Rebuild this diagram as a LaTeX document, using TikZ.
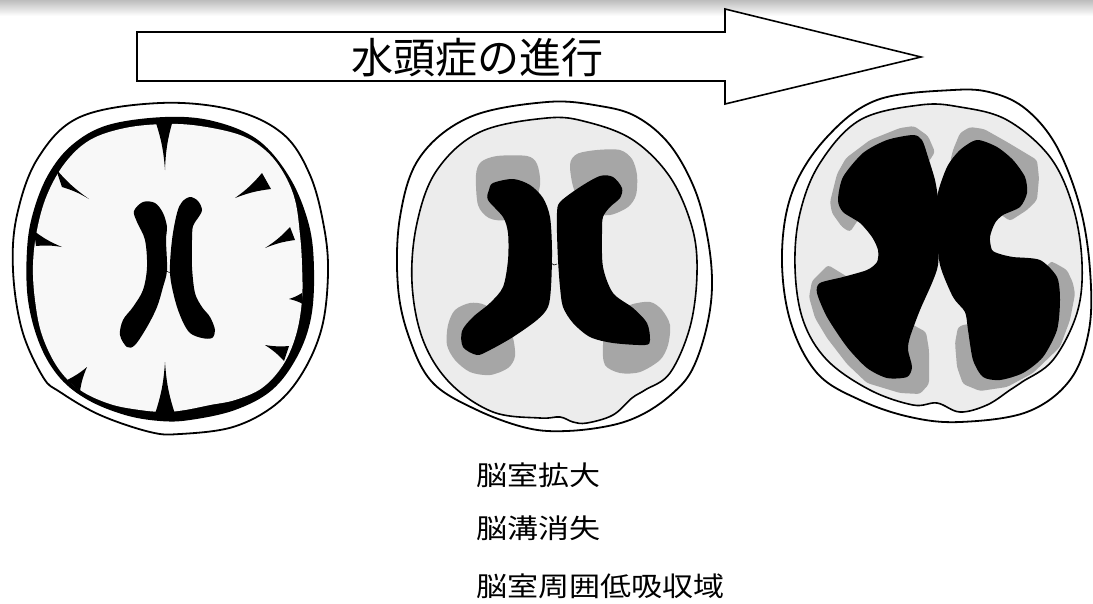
\documentclass[tikz,border=0pt]{standalone}
\usepackage{fontspec}
\newfontfamily\jpfont{Noto Sans CJK JP}
\newfontfamily\jpwide[FakeStretch=1.15]{Noto Sans CJK JP}
\definecolor{brainwhite}{HTML}{F8F8F8}
\definecolor{brainlight}{HTML}{ECECEC}
\definecolor{halogray}{HTML}{A6A6A6}
\definecolor{shadowgray}{HTML}{BDBDBD}
% a sulcus: black spike from the CSF band (two base points) to its tip
\newcommand\sulcus[3]{\fill[black] #1 to[bend left=7] #3 to[bend left=7] #2 -- cycle;}
\begin{document}
\begin{tikzpicture}[x=1pt,y=-1pt,
  skull/.style={fill=white,draw=black,line width=1.8pt,line join=round},
  cortex/.style={fill=brainlight,draw=black,line width=1.6pt,line join=round},
  vent/.style={fill=black},
  halo/.style={fill=halogray,rounded corners=3pt},
  arrowbox/.style={fill=white,draw=black,line width=1.6pt,line join=miter},
  title/.style={font=\jpfont\fontsize{42}{42}\selectfont,inner sep=0pt},
  caption/.style={font=\jpwide\fontsize{27}{27}\selectfont,inner sep=0pt,anchor=west}]
\useasboundingbox (0,0) rectangle (1093,603);
\fill[white] (0,0) rectangle (1093,603);
% soft shadow along the top edge
\shade[top color=shadowgray,bottom color=white] (0,0) rectangle (1093,16);

% progression arrow
\draw[arrowbox] (137,32) -- (725,32) -- (725,9) -- (921,57) -- (725,104) -- (725,81) -- (137,81) -- cycle;
\node[title] (prog) at (477,58) {水頭症の進行};

% ---------- normal brain ----------
\draw[skull] plot[smooth cycle,tension=0.6] coordinates {
 (160,103) (233,110) (283,134) (310,175) (324,227) (328,273) (322,327) (303,372)
 (275,405) (233,427) (180,434) (150,432) (100,415) (60,392) (43,377) (22,330)
 (13,270) (17,215) (38,158) (80,117)};
\fill[black] plot[smooth cycle,tension=0.6] coordinates {
 (165,117) (213,121) (258,140) (290,178) (309,225) (314,270) (311,318) (297,357)
 (272,390) (235,410) (190,420) (160,421) (125,415) (88,400) (60,378) (40,345)
 (28,300) (27,250) (33,213) (48,175) (72,145) (108,125)};
\fill[brainwhite] plot[smooth cycle,tension=0.6] coordinates {
 (165,124) (200,126) (240,135) (265,150) (283,172) (295,200) (300,235) (302,265)
 (302,300) (296,335) (283,365) (262,388) (235,400) (210,405) (185,410) (165,412)
 (140,410) (110,404) (80,390) (58,368) (42,335) (35,300) (33,265) (37,230)
 (47,195) (65,163) (90,140) (125,128)};
% sulci
\sulcus{(155,120)}{(173,120)}{(165,170)}
\sulcus{(175,414)}{(155,414)}{(165,362)}
\sulcus{(62,187)}{(56,169)}{(89,199)}
\sulcus{(36,246)}{(34,231)}{(62,247)}
\sulcus{(80,391)}{(67,380)}{(87,367)}
\sulcus{(262,173)}{(271,189)}{(235,198)}
\sulcus{(290,227)}{(295,240)}{(265,248)}
\sulcus{(302,293)}{(303,304)}{(289,299)}
\sulcus{(289,346)}{(284,361)}{(265,345)}
% ventricles
\fill[vent] plot[smooth cycle,tension=0.55] coordinates {
 (143,202) (155,203) (163,213) (167,227) (166,240) (167,270) (163,287) (157,307)
 (147,327) (135,345) (127,347) (120,335) (123,320) (133,307) (143,290) (147,267)
 (145,240) (137,222) (134,211)};
\fill[vent] plot[smooth cycle,tension=0.55] coordinates {
 (190,197) (198,201) (202,210) (198,218) (193,226) (192,240) (192,267) (195,293)
 (202,307) (210,317) (215,330) (212,338) (202,338) (190,333) (182,320) (175,300)
 (170,273) (172,240) (177,213) (182,202)};
\draw[black,line width=0.5pt] (165,270) -- (170,273);

% ---------- enlarging ventricles ----------
\draw[skull] plot[smooth cycle,tension=0.6] coordinates {
 (547,102) (600,106) (637,117) (670,145) (695,190) (708,240) (712,287) (706,330)
 (692,370) (673,393) (645,413) (613,425) (567,431) (527,428) (477,410) (433,383)
 (410,340) (398,287) (400,217) (420,157) (470,117)};
\draw[cortex] plot[smooth cycle,tension=0.6] coordinates {
 (547,118) (587,122) (633,140) (670,177) (692,227) (697,273) (690,327) (670,373)
 (645,390) (632,398) (613,415) (587,423) (573,422) (560,417) (540,418) (493,412)
 (450,383) (423,340) (412,283) (417,223) (437,170) (480,132)};
% periventricular lucency
\fill[halogray] plot[smooth cycle,tension=0.5] coordinates {
 (476,175) (481,162) (497,156) (527,156) (537,164) (540,185) (531,210) (506,220)
 (489,218) (478,205)};
\fill[halogray] plot[smooth cycle,tension=0.5] coordinates {
 (570,165) (577,154) (597,150) (620,150) (632,159) (637,175) (636,195) (628,207)
 (610,215) (592,212) (575,192)};
\fill[halogray] plot[smooth cycle,tension=0.5] coordinates {
 (448,325) (455,310) (470,303) (485,305) (500,318) (512,335) (515,356) (508,368)
 (490,375) (470,372) (455,360) (447,345)};
\fill[halogray] plot[smooth cycle,tension=0.5] coordinates {
 (608,318) (630,305) (650,302) (662,310) (670,325) (668,345) (660,360) (640,372)
 (620,373) (605,365) (603,345)};
% ventricles
\fill[vent] plot[smooth cycle,tension=0.5] coordinates {
 (493,183) (513,179) (530,185) (543,198) (550,217) (552,250) (551,287) (548,307)
 (537,320) (513,337) (490,350) (477,355) (463,347) (462,331) (473,317) (490,303)
 (503,287) (508,260) (508,233) (503,217) (488,200) (489,190)};
\fill[vent] plot[smooth cycle,tension=0.5] coordinates {
 (560,202) (580,187) (600,176) (613,177) (622,188) (620,198) (610,207) (603,217)
 (602,233) (603,267) (613,293) (633,308) (647,323) (650,340) (645,345) (613,343)
 (590,337) (573,323) (563,307) (560,287) (558,260) (557,233) (557,213)};
\draw[black,line width=0.6pt] (551,263) -- (554,265) -- (557,264);

% ---------- advanced hydrocephalus ----------
\draw[skull] plot[smooth cycle,tension=0.6] coordinates {
 (953,90) (993,93) (1027,110) (1057,147) (1080,207) (1090,270) (1089,330) (1070,380)
 (1027,412) (960,422) (910,417) (860,400) (817,373) (790,320) (782,253) (793,190)
 (827,137) (877,100)};
\draw[cortex] plot[smooth cycle,tension=0.6] coordinates {
 (920,105) (960,107) (1007,120) (1050,157) (1073,207) (1082,263) (1077,313) (1053,360)
 (1022,382) (1010,390) (987,405) (960,412) (937,403) (913,405) (870,390) (827,360)
 (803,320) (795,267) (800,213) (820,163) (860,120)};
% periventricular lucency
\fill[halo] (830,202) -- (837,174) -- (846,158) -- (870,140) -- (900,128) -- (914,126)
 -- (928,136) -- (935,152) -- (920,175) -- (862,214) -- (850,232) -- (842,227) -- (832,213) -- cycle;
\fill[halo] (828,265) -- (846,276) -- (880,300) -- (915,326) -- (926,332) -- (929,350)
 -- (929,384) -- (920,394) -- (900,393) -- (867,383) -- (847,364) -- (827,338)
 -- (815,318) -- (809,297) -- (812,281) -- cycle;
\fill[halo] (950,162) -- (953,150) -- (960,133) -- (970,127) -- (984,129) -- (1007,142)
 -- (1027,154) -- (1037,160) -- (1039,178) -- (1037,200) -- (1027,210) -- (1010,221)
 -- (1000,214) -- (980,180) -- cycle;
\fill[halo] (1050,262) -- (1053,262) -- (1067,270) -- (1073,283) -- (1075,294) -- (1070,320)
 -- (1060,347) -- (1033,373) -- (1007,387) -- (980,391) -- (963,384) -- (957,367)
 -- (955,343) -- (958,327) -- (966,324) -- (1000,330) -- cycle;
% ventricles
\fill[vent] plot[smooth cycle,tension=0.45] coordinates {
 (913,135) (922,140) (928,157) (935,180) (938,200) (939,235) (938,265) (932,283)
 (920,310) (910,337) (908,350) (912,367) (907,377) (887,378) (867,368) (847,347)
 (827,317) (817,293) (820,283) (843,277) (867,270) (877,262) (878,250) (872,237)
 (860,223) (843,212) (838,200) (843,177) (863,153) (887,140)};
\fill[vent] plot[smooth cycle,tension=0.45] coordinates {
 (977,140) (997,147) (1013,160) (1025,177) (1027,193) (1020,207) (1003,215) (995,223)
 (990,237) (992,250) (1000,254) (1013,257) (1040,260) (1057,277) (1060,300) (1057,330)
 (1043,357) (1023,373) (1000,380) (983,377) (973,360) (968,330) (965,312) (953,297)
 (940,265) (937,230) (937,197) (947,167) (960,150)};

% ---------- findings ----------
\node[caption] (f1) at (476,475) {脳室拡大};
\node[caption] (f2) at (476,528) {脳溝消失};
\node[caption] (f3) at (476,586) {脳室周囲低吸収域};
\end{tikzpicture}
\end{document}
